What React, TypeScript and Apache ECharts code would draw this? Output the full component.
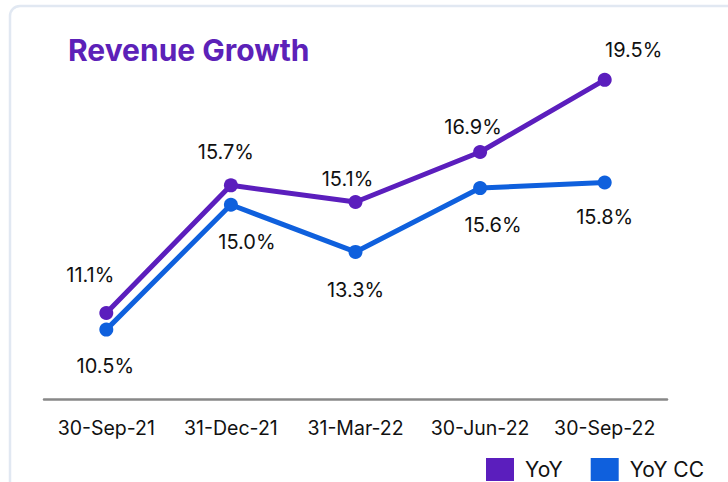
import React, { useEffect, useRef } from "react";
import * as echarts from "echarts";

const categories = ["30-Sep-21", "31-Dec-21", "31-Mar-22", "30-Jun-22", "30-Sep-22"];
const yoy = [11.1, 15.7, 15.1, 16.9, 19.5];
const yoyCC = [10.5, 15.0, 13.3, 15.6, 15.8];
const yoyLabelOffsets = [[-16, -38], [-5, -33], [-8, -23], [-7, -25], [29, -30]];
const ccLabelOffsets = [[-1, 36], [16, 37], [0, 38], [13, 37], [0, 34]];

const PURPLE = "#5b1ebd";
const BLUE = "#0f60dd";
const FONT = "Inter, 'Noto Sans', sans-serif";

export default function App() {
  const ref = useRef<HTMLDivElement>(null);
  useEffect(() => {
    if (!ref.current) return;
    const chart = echarts.init(ref.current, undefined, { renderer: "svg" });
    const mk = (vals: number[], offs: number[][]) =>
      vals.map((v, i) => ({
        value: v,
        label: { offset: offs[i] },
      }));
    chart.setOption({
      animation: false,
      backgroundColor: "#ffffff",
      graphic: [
        {
          type: "rect",
          shape: { x: 10, y: 6, width: 760, height: 520, r: 10 },
          style: { fill: "none", stroke: "#e1e8f2", lineWidth: 2.5 },
          z: -1,
        },
        {
          type: "text",
          left: 68,
          top: 35,
          style: {
            text: "Revenue Growth",
            fill: "#5c21b8",
            font: `bold 30px ${FONT}`,
          },
        },
      ],
      legend: {
        left: 481,
        top: 453,
        itemWidth: 28,
        itemHeight: 23,
        itemGap: 28,
        icon: "rect",
        textStyle: { fontSize: 21, color: "#111", fontFamily: FONT, padding: [0, 0, 0, 6] },
        data: ["YoY", "YoY CC"],
      },
      grid: { left: 44, right: 61, top: 66, bottom: 83 },
      xAxis: {
        type: "category",
        data: categories,
        boundaryGap: true,
        axisLine: { lineStyle: { color: "#888", width: 2.5 } },
        axisTick: { show: false },
        axisLabel: { interval: 0, fontSize: 19.5, color: "#111", fontFamily: FONT, margin: 19 },
      },
      yAxis: {
        type: "value",
        min: 8,
        max: 20,
        show: false,
        splitLine: { show: false },
      },
      series: [
        {
          name: "YoY",
          type: "line",
          data: mk(yoy, yoyLabelOffsets),
          color: PURPLE,
          lineStyle: { width: 5, color: PURPLE },
          symbol: "circle",
          symbolSize: 14,
          itemStyle: { color: PURPLE },
          label: {
            show: true,
            position: "inside",
            formatter: (p: any) => p.value.toFixed(1) + "%",
            fontSize: 20,
            color: "#111",
            fontFamily: FONT,
          },
          z: 3,
        },
        {
          name: "YoY CC",
          type: "line",
          data: mk(yoyCC, ccLabelOffsets),
          color: BLUE,
          lineStyle: { width: 5, color: BLUE },
          symbol: "circle",
          symbolSize: 14,
          itemStyle: { color: BLUE },
          label: {
            show: true,
            position: "inside",
            formatter: (p: any) => p.value.toFixed(1) + "%",
            fontSize: 20,
            color: "#111",
            fontFamily: FONT,
          },
          z: 2,
        },
      ],
    });
    return () => chart.dispose();
  }, []);
  return (
    <div
      ref={ref}
      style={{ position: "fixed", left: 0, top: 0, width: 728, height: 482 }}
    />
  );
}
